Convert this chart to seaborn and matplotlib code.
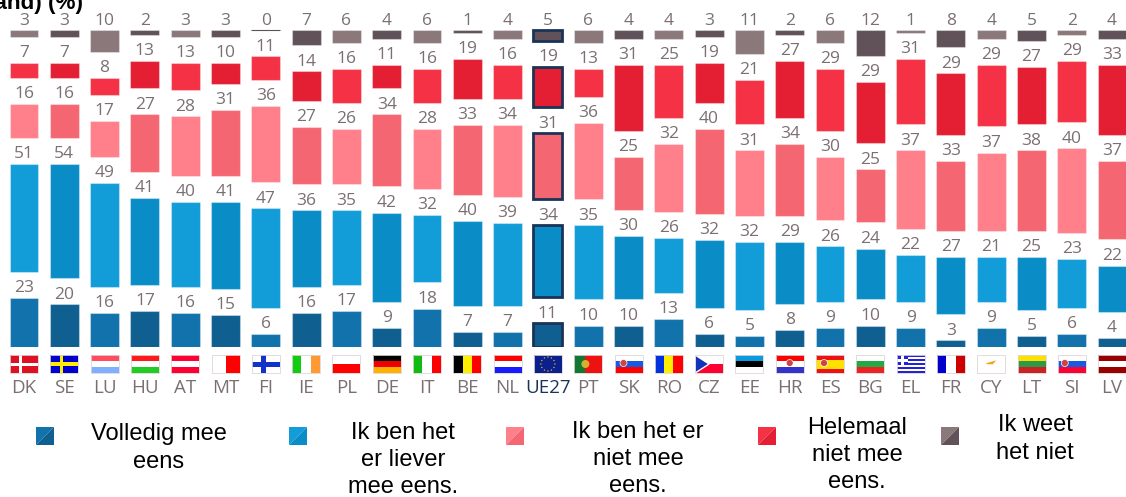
import numpy as np
import matplotlib
matplotlib.use("Agg")
import matplotlib.pyplot as plt
from matplotlib.patches import Rectangle, Polygon, Circle
import seaborn as sns

codes = ["DK", "SE", "LU", "HU", "AT", "MT", "FI", "IE", "PL", "DE", "IT", "BE", "NL", "UE27",
         "PT", "SK", "RO", "CZ", "EE", "HR", "ES", "BG", "EL", "FR", "CY", "LT", "SI", "LV"]
volledig = [23, 20, 16, 17, 16, 15, 6, 16, 17, 9, 18, 7, 7, 11, 10, 10, 13, 6, 5, 8, 9, 10, 9, 3, 9, 5, 6, 4]
liever = [51, 54, 49, 41, 40, 41, 47, 36, 35, 42, 32, 40, 39, 34, 35, 30, 26, 32, 32, 29, 26, 24, 22, 27, 21, 25, 23, 22]
niet = [16, 16, 17, 27, 28, 31, 36, 27, 26, 34, 28, 33, 34, 31, 36, 25, 32, 40, 31, 34, 30, 25, 37, 33, 37, 38, 40, 37]
helemaal = [7, 7, 8, 13, 13, 10, 11, 14, 16, 11, 16, 19, 16, 19, 13, 31, 25, 19, 21, 27, 29, 29, 31, 29, 29, 27, 29, 33]
weet_niet = [3, 3, 10, 2, 3, 3, 0, 7, 6, 4, 6, 1, 4, 5, 6, 4, 4, 3, 11, 2, 6, 12, 1, 8, 4, 5, 2, 4]

series = [volledig, liever, niet, helemaal, weet_niet]
# (lighter, darker), the columns alternate between the two
shades = [("#1272AB", "#0F5F91"), ("#129DD8", "#0A8DC6"), ("#FF7F8A", "#F46772"),
          ("#F43145", "#E41E33"), ("#8A787B", "#615259")]
legend_texts = ["Volledig mee\neens", "Ik ben het\ner liever\nmee eens.", "Ik ben het er\nniet mee\neens.",
                "Helemaal\nniet mee\neens.", "Ik weet\nhet niet"]
legend_box_x = [36, 289, 506, 758, 941]
legend_text_x = [159, 403, 638, 857, 1035]
legend_text_y = [448, 460, 459, 455, 439]

W, H = 1126, 497
PX_PER_UNIT = 2.12
BASE_PX = 346.7
GAP = 12.3   # white space between the segments, in data units
LABEL_GREY = "#7B6F73"
NAVY = "#1B3358"

sns.set_style("white")
plt.rcParams["font.family"] = ["Open Sans", "DejaVu Sans"]

fig = plt.figure(figsize=(W / 100, H / 100), dpi=100)
ax = fig.add_axes([0, (H - BASE_PX) / H, 1, BASE_PX / H])

bottom = np.zeros(len(codes))
for vals, (light, dark) in zip(series, shades):
    vals = np.array(vals)
    n_before = len(ax.patches)
    sns.barplot(x=codes, y=vals, order=codes, bottom=bottom, width=0.715, color=light, ax=ax)
    for i, bar in enumerate(ax.patches[n_before:]):
        bar.set_facecolor(light if i % 2 == 0 else dark)
        bar.set_edgecolor((1, 1, 1, 0.35))
        bar.set_linewidth(0.8)
        if vals[i] == 0:
            bar.set_edgecolor(dark)
        if codes[i] == "UE27":
            bar.set_edgecolor(NAVY)
            bar.set_linewidth(2.0)
            bar.set_zorder(3)
        ax.text(i, bottom[i] + vals[i] + 2.7, str(vals[i]), ha="center", va="baseline",
                fontsize=12.5, color=LABEL_GREY)
    bottom = bottom + vals + GAP

ax.set_xlim(-24 / 40.3, (W - 24) / 40.3)
ax.set_ylim(0, BASE_PX / PX_PER_UNIT)
ax.set_yticks([])
ax.set_xlabel("")
ax.tick_params(axis="x", length=0, pad=23.5, labelsize=13.5, labelcolor=LABEL_GREY)
sns.despine(ax=ax, left=True, bottom=True)
for lab in ax.get_xticklabels():
    if lab.get_text() == "UE27":
        lab.set_color(NAVY)

# overlay in pixel coordinates: flags, legend, cut-off title
ov = fig.add_axes([0, 0, 1, 1], facecolor="none")
ov.set_xlim(0, W)
ov.set_ylim(H, 0)
ov.axis("off")


def rect(x, y, w, h, c):
    ov.add_patch(Rectangle((x, y), w, h, facecolor=c, edgecolor="none"))


def stripes(x, y, w, h, colors, vertical=False):
    n = len(colors)
    for k, c in enumerate(colors):
        if vertical:
            rect(x + k * w / n, y, w / n, h, c)
        else:
            rect(x, y + k * h / n, w, h / n, c)


def cross(x, y, w, h, bg, c, t=3.5):
    rect(x, y, w, h, bg)
    rect(x + w * 0.33, y, t, h, c)
    rect(x, y + h / 2 - t / 2, w, t, c)


flag_h = {"LU": ["#FF4C5E", "#FFFFFF", "#7FAFFF"], "HU": ["#FF1A1A", "#FFFFFF", "#22CC22"],
          "AT": ["#FF0033", "#FFFFFF", "#FF0033"], "PL": ["#FFFFFF", "#FF0000"],
          "DE": ["#000000", "#EE0000", "#FFB000"], "NL": ["#FF0000", "#FFFFFF", "#1A1AFF"],
          "SK": ["#FFFFFF", "#1A5AE0", "#FF0000"], "EE": ["#0A9AE0", "#000000", "#FFFFFF"],
          "HR": ["#FF0000", "#FFFFFF", "#3333CC"], "ES": ["#EE1111", "#FFE000", "#FFE000", "#EE1111"],
          "BG": ["#FFFFFF", "#22AA44", "#EE2222"], "LT": ["#FFE000", "#2E9A48", "#CC2222"],
          "SI": ["#FFFFFF", "#1A5AE0", "#FF0033"], "LV": ["#990000", "#FFFFFF", "#990000"]}
flag_v = {"MT": ["#FFFFFF", "#FF0000"], "IE": ["#11CC11", "#FFFFFF", "#FF9933"],
          "IT": ["#11BB11", "#FFFFFF", "#FF0000"], "BE": ["#000000", "#FFEE00", "#FF0000"],
          "RO": ["#0033DD", "#FFEE00", "#FF0000"], "FR": ["#0000CC", "#FFFFFF", "#CC0000"]}

FY, FW, FH = 355, 28, 18
for i, code in enumerate(codes):
    fx = 24 + 40.3 * i - FW / 2
    if code in flag_h:
        stripes(fx, FY, FW, FH, flag_h[code])
    elif code in flag_v:
        stripes(fx, FY, FW, FH, flag_v[code], vertical=True)
    elif code == "DK":
        cross(fx, FY, FW, FH, "#DD1122", "#FFFFFF", 3)
    elif code == "SE":
        cross(fx, FY, FW, FH, "#0000CC", "#FFEE00")
    elif code == "FI":
        cross(fx, FY, FW, FH, "#FFFFFF", "#1133CC", 5)
    elif code == "UE27":
        rect(fx, FY, FW, FH, "#0B1F8F")
        for a in np.arange(0, 2 * np.pi, np.pi / 6):
            ov.add_patch(Circle((fx + FW / 2 + 7 * np.cos(a), FY + FH / 2 + 7 * np.sin(a)), 0.7,
                                facecolor="#D8C020", edgecolor="none"))
    elif code == "PT":
        rect(fx, FY, FW, FH, "#EE1111")
        rect(fx, FY, FW * 0.4, FH, "#117733")
        ov.add_patch(Circle((fx + FW * 0.4, FY + FH / 2), 4, facecolor="#D8B030", edgecolor="none"))
    elif code == "CZ":
        stripes(fx, FY, FW, FH, ["#FFFFFF", "#FF0033"])
        ov.add_patch(Polygon([(fx, FY), (fx + FW / 2, FY + FH / 2), (fx, FY + FH)], facecolor="#1133BB"))
    elif code == "EL":
        stripes(fx, FY, FW, FH, ["#2222DD", "#FFFFFF"] * 4 + ["#2222DD"])
        rect(fx, FY, 11, 10, "#2222DD")
        rect(fx + 4, FY, 3, 10, "#FFFFFF")
        rect(fx, FY + 3.5, 11, 3, "#FFFFFF")
    elif code == "CY":
        rect(fx, FY, FW, FH, "#FFFFFF")
        ov.add_patch(Polygon([(fx + 7, FY + 8), (fx + 21, FY + 4), (fx + 16, FY + 10), (fx + 10, FY + 10)],
                             facecolor="#F5A623"))
    # thin light frame round the flag
    ov.add_patch(Rectangle((fx, FY), FW, FH, facecolor="none", edgecolor="#DDD6D6", linewidth=0.6))

for code, dx in [("SK", 9), ("SI", 7), ("ES", 8), ("HR", 14)]:
    fx = 24 + 40.3 * codes.index(code) - FW / 2
    ov.add_patch(Circle((fx + dx, FY + FH / 2 - 1), 3.5, facecolor="#CC4444", edgecolor="#FFFFFF", linewidth=0.5))

for bx, (light, dark), txt, tx, ty in zip(legend_box_x, shades, legend_texts, legend_text_x, legend_text_y):
    ov.add_patch(Polygon([(bx, 427), (bx + 18, 427), (bx, 445)], facecolor=light, edgecolor="none"))
    ov.add_patch(Polygon([(bx + 18, 427), (bx + 18, 445), (bx, 445)], facecolor=dark, edgecolor="none"))
    ov.text(tx, ty, txt, ha="center", va="center", multialignment="center", fontsize=17,
            family="Liberation Sans", color="#000000", linespacing=1.3)

ov.text(82.5, 9.5, "land) (%)", ha="right", va="baseline", fontsize=16.2, fontweight="bold",
        family="Liberation Sans", color="#000000")

fig.savefig("out.png", dpi=100, facecolor="white")
